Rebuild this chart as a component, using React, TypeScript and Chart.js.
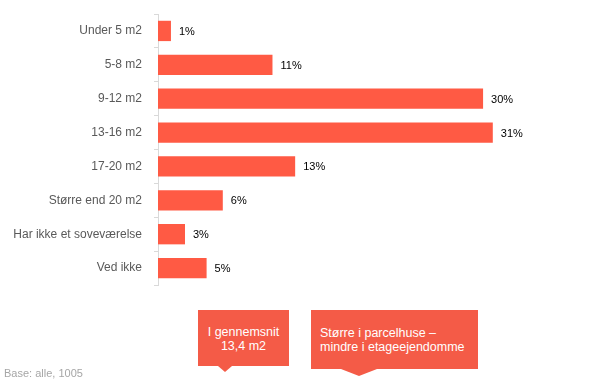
import React, { useEffect, useRef } from "react";
import { Chart, registerables } from "chart.js";

Chart.register(...registerables);

const categories = [
  "Under 5 m2",
  "5-8 m2",
  "9-12 m2",
  "13-16 m2",
  "17-20 m2",
  "Større end 20 m2",
  "Har ikke et soveværelse",
  "Ved ikke",
];
const values = [1.2, 10.6, 30.1, 31, 12.7, 6.0, 2.5, 4.5];
const valueLabels = ["1%", "11%", "30%", "31%", "13%", "6%", "3%", "5%"];
const callout1 = ["I gennemsnit", "13,4 m2"];
const callout2 = ["Større i parcelhuse –", "mindre i etageejendomme"];
const baseText = "Base: alle, 1005";

const BAR = "#FF5A44";
const CALLOUT = "#F45B47";
const FONT = "'Liberation Sans', Arial, sans-serif";

const valueLabelPlugin = {
  id: "valueLabels",
  afterDatasetsDraw(chart: any) {
    const ctx = chart.ctx;
    const meta = chart.getDatasetMeta(0);
    ctx.save();
    ctx.font = `11px ${FONT}`;
    ctx.fillStyle = "#000";
    ctx.textAlign = "left";
    ctx.textBaseline = "middle";
    meta.data.forEach((el: any, i: number) => {
      ctx.fillText(valueLabels[i], el.x + 8, el.y + 1);
    });
    ctx.restore();
  },
};

function Callout({ left, top, width, height, tipX, tipW, tipH, lines, align, padLeft, padTop }: any) {
  return (
    <div style={{ position: "absolute", left, top, width, height }}>
      <div
        style={{
          position: "absolute",
          inset: 0,
          background: CALLOUT,
          color: "#fff",
          fontFamily: FONT,
          fontSize: 12.5,
          lineHeight: "14px",
          textAlign: align,
          boxSizing: "border-box",
          paddingTop: padTop,
          paddingLeft: padLeft,
        }}
      >
        {lines.map((l: string, i: number) => (
          <div key={i}>{l}</div>
        ))}
      </div>
      <div
        style={{
          position: "absolute",
          left: tipX - tipW / 2,
          top: height,
          width: 0,
          height: 0,
          borderLeft: `${tipW / 2}px solid transparent`,
          borderRight: `${tipW / 2}px solid transparent`,
          borderTop: `${tipH}px solid ${CALLOUT}`,
        }}
      />
    </div>
  );
}

export default function App() {
  const ref = useRef<HTMLCanvasElement>(null);
  useEffect(() => {
    const chart = new Chart(ref.current!, {
      type: "bar",
      data: {
        labels: categories,
        datasets: [
          {
            data: values,
            backgroundColor: BAR,
            borderWidth: 0,
            barPercentage: 0.6,
            categoryPercentage: 1,
          },
        ],
      },
      options: {
        indexAxis: "y",
        animation: false,
        responsive: false,
        maintainAspectRatio: false,
        layout: { padding: { left: 0, top: 14, right: 64, bottom: 97 } },
        plugins: { legend: { display: false }, tooltip: { enabled: false } },
        scales: {
          x: { display: false, min: 0, max: 35 },
          y: {
            afterFit(scale: any) {
              scale.width = 158;
              scale.paddingTop = 0;
              scale.paddingBottom = 0;
            },
            grid: {
              drawOnChartArea: false,
              color: "#d9d9d9",
              tickLength: 4,
              offset: true,
            },
            border: { color: "#d9d9d9", width: 1 },
            ticks: {
              color: "#595959",
              font: { family: FONT, size: 12 },
              padding: 12,
            },
          },
        },
      },
      plugins: [valueLabelPlugin],
    });
    return () => chart.destroy();
  }, []);

  return (
    <div style={{ position: "fixed", left: 0, top: 0, width: 600, height: 382, background: "#fff" }}>
      <canvas ref={ref} width={600} height={382} style={{ position: "absolute", left: 0, top: 0 }} />
      <Callout left={198} top={310} width={91} height={56} tipX={27} tipW={14} tipH={6} lines={callout1} align="center" padLeft={0} padTop={15} />
      <Callout left={311} top={310} width={167} height={59} tipX={48} tipW={36} tipH={7} lines={callout2} align="left" padLeft={9} padTop={16} />
      <div
        style={{
          position: "absolute",
          left: 4,
          top: 367,
          fontFamily: FONT,
          fontSize: 11,
          color: "#a6a6a6",
        }}
      >
        {baseText}
      </div>
    </div>
  );
}
